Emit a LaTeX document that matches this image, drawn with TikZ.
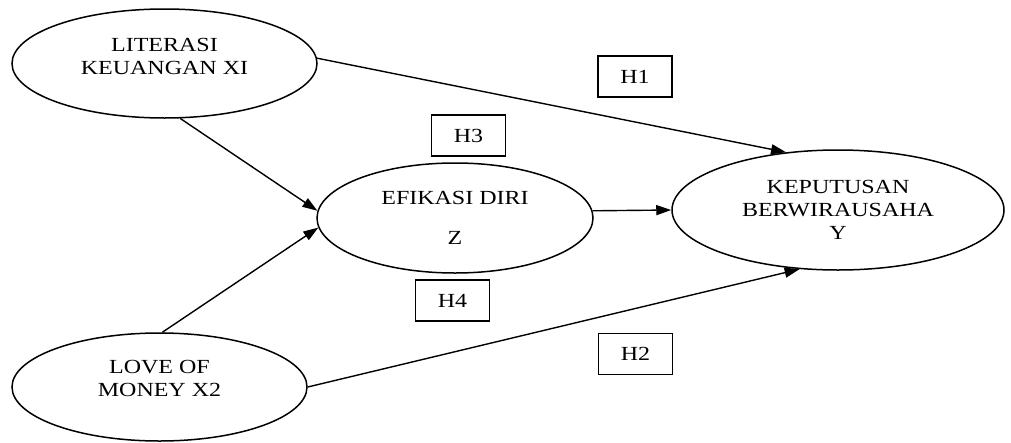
\documentclass[tikz,border=0pt]{standalone}
\usepackage{fontspec}
\setmainfont{Liberation Serif}[FakeStretch=1.2]
\usetikzlibrary{shapes.geometric,arrows.meta}

\begin{document}
\begin{tikzpicture}[
    x=1pt, y=-1pt,
    font=\fontsize{20}{23}\selectfont,
    oval/.style={draw, ellipse, line width=1.5pt, inner sep=0pt, align=center},
    hbox/.style={draw, line width=1.5pt, minimum width=74pt, minimum height=41pt, inner sep=0pt},
    link/.style={line width=1.4pt, -{Triangle[length=15pt,width=10pt]}}
]
\useasboundingbox (0,0) rectangle (1011,442);
\node[oval, minimum width=305pt, minimum height=109pt,
      label={[align=center, yshift=7.5pt]center:LITERASI\\KEUANGAN XI}] (x1) at (164.5,63.5) {};
\node[oval, minimum width=295pt, minimum height=108pt,
      label={[align=center, yshift=8.5pt]center:LOVE OF\\MONEY X2}] (x2) at (159.5,387) {};
\node[oval, minimum width=276pt, minimum height=110pt] (z) at (455,218) {
EFIKASI DIRI\\[17pt]Z
};
\node[oval, minimum width=332pt, minimum height=120pt] (y) at (838,210) {
KEPUTUSAN\\BERWIRAUSAHA\\Y
};
\node[hbox] (h1) at (635,76.5) {H1};
\node[hbox] (h2) at (635.5,354) {H2};
\node[hbox] (h3) at (468.5,135.5) {H3};
\node[hbox] (h4) at (452.5,300.5) {H4};
\draw[link] (x1.2) -- (y.132);
\draw[link] (x1.286) -- (z.177);
\draw[link] (x2.87) -- (z.184);
\draw[link] (z.3) -- (y.180);
\draw[link] (x2.east) -- (y.237);
\end{tikzpicture}
\end{document}
